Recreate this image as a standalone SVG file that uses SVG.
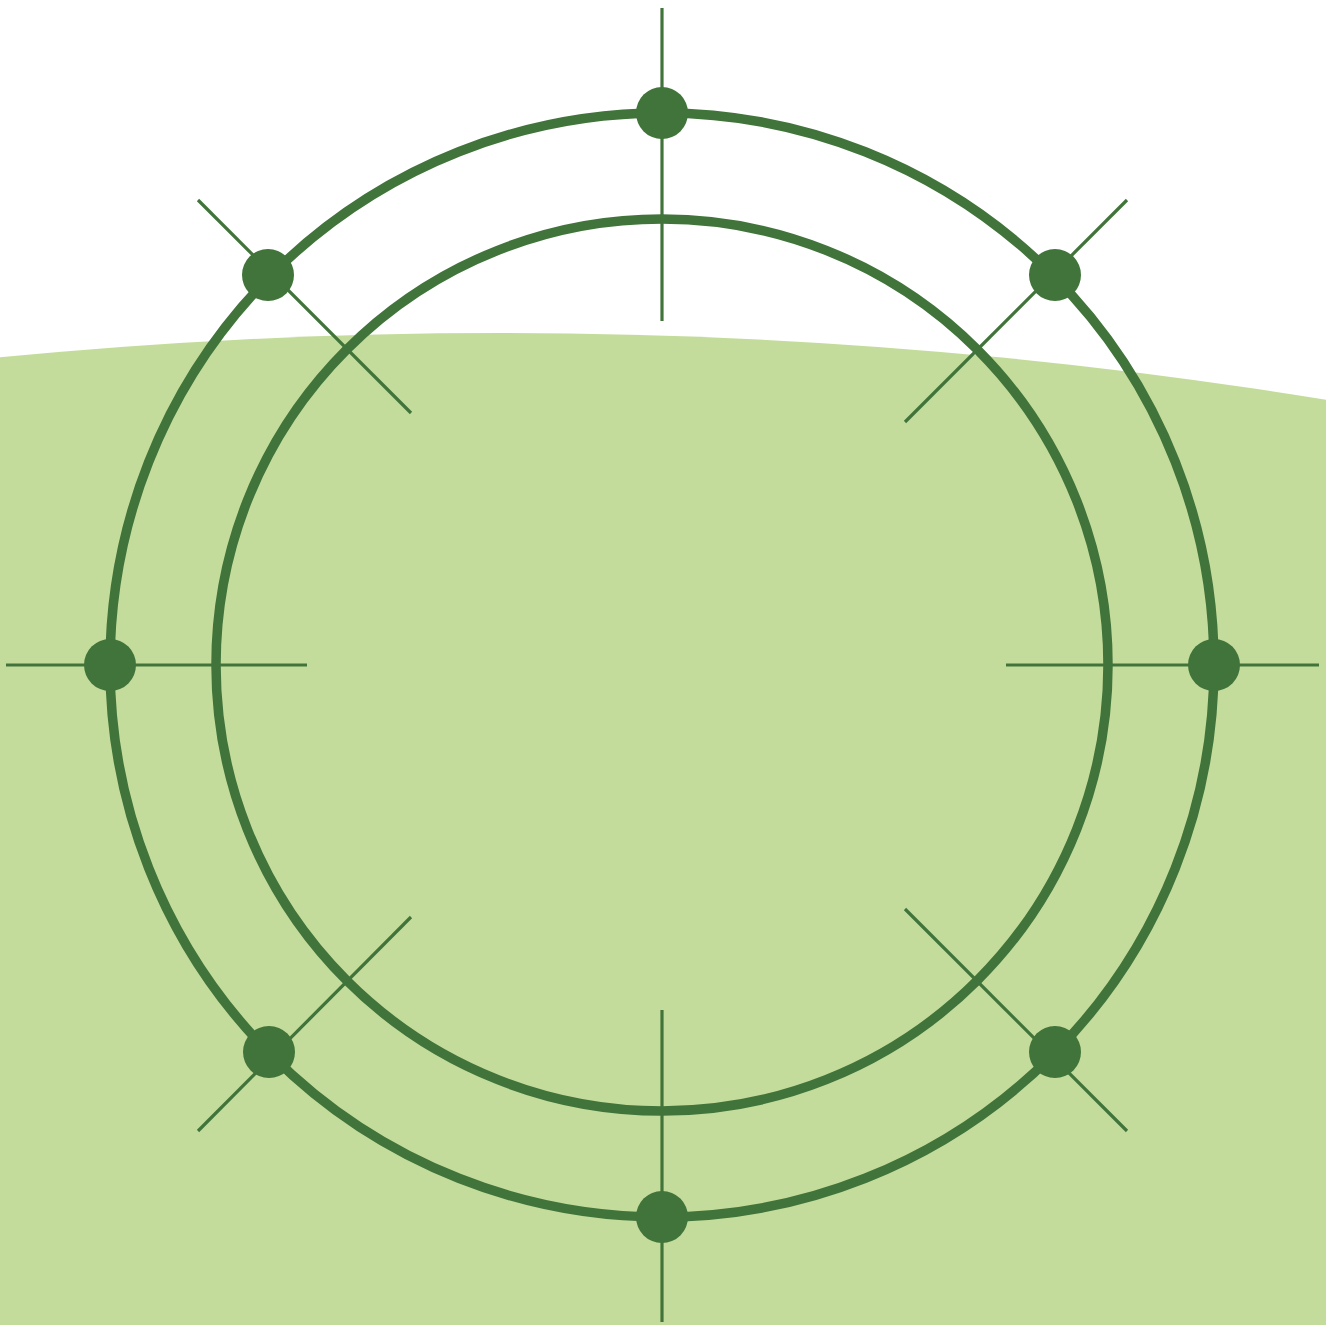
<svg xmlns="http://www.w3.org/2000/svg" width="1326" height="1325" viewBox="0 0 1326 1325">
  <style>
    .ring { fill: none; stroke: #41743a; stroke-width: 9.5; }
    .spoke { stroke: #41743a; stroke-width: 3.2; stroke-linecap: butt; }
    .dot { fill: #41743a; }
  </style>
  <rect x="0" y="0" width="1326" height="1325" fill="#ffffff"/>
  <g id="ground">
    <circle cx="500" cy="5483" r="5150" fill="#c4dc9b"/>
  </g>
  <g id="connectors">
    <circle class="ring" cx="662" cy="665" r="552"/>
    <circle class="ring" cx="662" cy="665" r="446"/>
    <line class="spoke" x1="662" y1="8" x2="662" y2="321"/>
    <line class="spoke" x1="662" y1="1010" x2="662" y2="1322"/>
    <line class="spoke" x1="6" y1="665" x2="307" y2="665"/>
    <line class="spoke" x1="1006" y1="665" x2="1319" y2="665"/>
    <line class="spoke" x1="198" y1="200" x2="411" y2="413"/>
    <line class="spoke" x1="1127" y1="200" x2="905" y2="422"/>
    <line class="spoke" x1="411" y1="917" x2="198" y2="1131"/>
    <line class="spoke" x1="905" y1="909" x2="1127" y2="1131"/>
  </g>
  <g id="node-n"><circle class="dot" cx="662" cy="113" r="26"/></g>
  <g id="node-ne"><circle class="dot" cx="1055" cy="275" r="26"/></g>
  <g id="node-e"><circle class="dot" cx="1214" cy="665" r="26"/></g>
  <g id="node-se"><circle class="dot" cx="1055" cy="1052" r="26"/></g>
  <g id="node-s"><circle class="dot" cx="662" cy="1217" r="26"/></g>
  <g id="node-sw"><circle class="dot" cx="269" cy="1052" r="26"/></g>
  <g id="node-w"><circle class="dot" cx="110" cy="665" r="26"/></g>
  <g id="node-nw"><circle class="dot" cx="268" cy="275" r="26"/></g>
</svg>
